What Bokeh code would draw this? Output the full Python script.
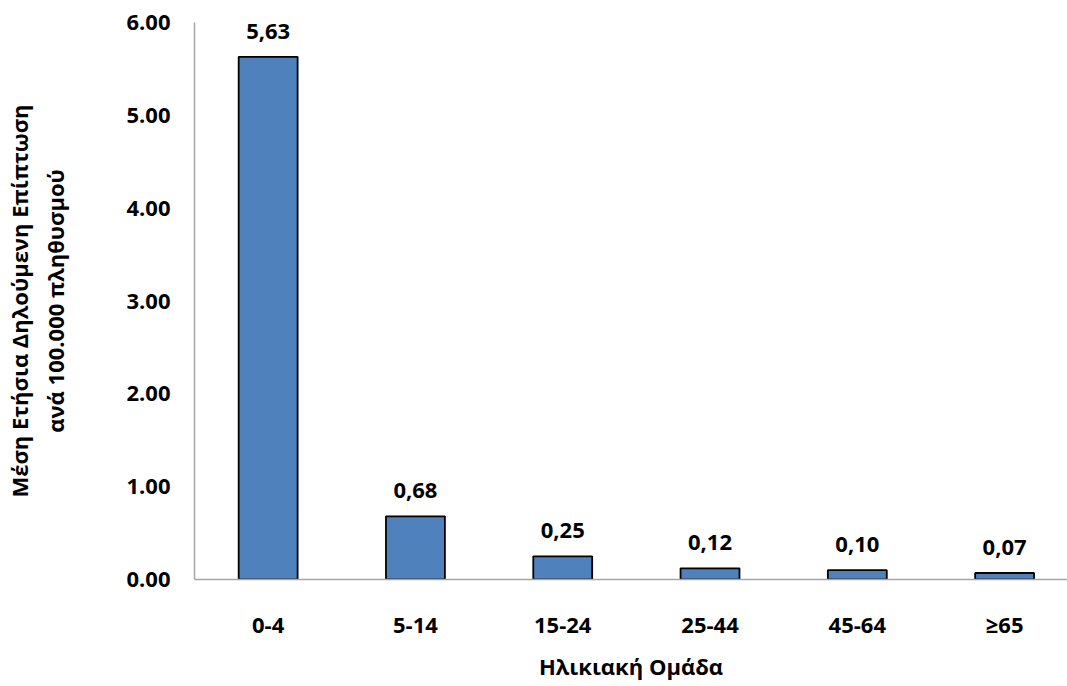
from bokeh.plotting import figure
from bokeh.models import Range1d, ColumnDataSource, FixedTicker, LabelSet, NumeralTickFormatter
from bokeh.core.properties import value
from bokeh.embed import file_html
from bokeh.resources import INLINE

categories = ["0-4", "5-14", "15-24", "25-44", "45-64", "≥65"]
values = [5.63, 0.68, 0.25, 0.12, 0.10, 0.07]
value_labels = ["5,63", "0,68", "0,25", "0,12", "0,10", "0,07"]
y_ticks = [0, 1, 2, 3, 4, 5, 6]
x_title = "Ηλικιακή Ομάδα"
y_title_lines = ["Μέση Ετήσια Δηλούμενη Επίπτωση", "ανά 100.000 πληθυσμού"]

xs = list(range(len(categories)))
src = ColumnDataSource(dict(x=xs, top=values, lab=value_labels))

FONT = "Open Sans"
FS = "22px"

p = figure(width=1067, height=686, output_backend="svg", toolbar_location=None,
           x_range=Range1d(-0.5, 5.427), y_range=Range1d(0, 6),
           min_border_left=194, min_border_right=0, min_border_top=22, min_border_bottom=107)
p.outline_line_color = None
p.grid.grid_line_color = None
p.background_fill_color = "white"
p.border_fill_color = "white"

p.vbar(x="x", top="top", width=0.40, source=src, fill_color="#4F81BD",
       line_color="black", line_width=1.8)

labels = LabelSet(x="x", y="top", text="lab", source=src, y_offset=18,
                  text_align="center", text_baseline="alphabetic",
                  text_font=value(FONT), text_font_style="bold", text_font_size=FS,
                  text_color="black")
p.add_layout(labels)

p.xaxis.ticker = FixedTicker(ticks=xs)
p.xaxis.major_label_overrides = {i: c for i, c in enumerate(categories)}
p.yaxis.ticker = FixedTicker(ticks=y_ticks)
p.yaxis.formatter = NumeralTickFormatter(format="0.00")

for ax in (p.xaxis[0], p.yaxis[0]):
    ax.axis_line_color = "#A6A6A6"
    ax.axis_line_width = 1.5
    ax.major_tick_line_color = None
    ax.minor_tick_line_color = None
    ax.major_tick_out = 0
    ax.major_tick_in = 0
    ax.minor_tick_out = 0
    ax.major_label_text_font = FONT
    ax.major_label_text_font_style = "bold"
    ax.major_label_text_font_size = FS
    ax.major_label_text_color = "black"
    ax.axis_label_text_font = FONT
    ax.axis_label_text_font_style = "bold"
    ax.axis_label_text_font_size = FS
    ax.axis_label_text_color = "black"

p.xaxis.major_label_standoff = 29
p.xaxis.axis_label = x_title
p.xaxis.axis_label_standoff = 9
p.yaxis.major_label_standoff = 24
p.yaxis.axis_label = "\n".join(y_title_lines)
p.yaxis.axis_label_standoff = 53

open("out.html", "w").write(file_html(p, INLINE))
